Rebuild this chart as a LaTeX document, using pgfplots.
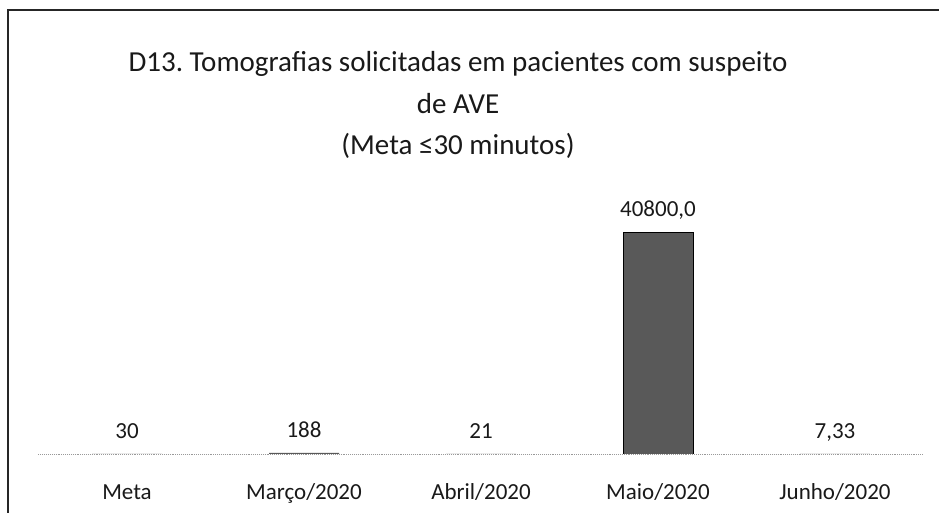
\documentclass[border=0pt]{standalone}
\usepackage{pgfplots}
\pgfplotsset{compat=1.18}
\usepackage{fontspec}
\setmainfont{Carlito}
\frenchspacing
\begin{document}
\begin{tikzpicture}[x=1pt,y=1pt]
\path[use as bounding box] (0,0) rectangle (939,513);
\draw[black!85, line width=1.6pt] (8,0) -- (8,503) -- (939,503);
\node[anchor=base, font=\fontsize{29}{34}\selectfont, black!90] at (458,441) {D13.\ Tomografias solicitadas em pacientes com suspeito};
\node[anchor=base, font=\fontsize{29}{34}\selectfont, black!90] at (458,399) {de AVE};
\node[anchor=base, font=\fontsize{29}{34}\selectfont, black!90] at (458,358) {(Meta ≤30 minutos)};
\begin{axis}[
  at={(38.5pt,59pt)}, anchor=south west,
  width=885pt, height=264pt, scale only axis,
  ymin=0, ymax=48500, xmin=-0.5, xmax=4.5,
  axis x line*=bottom, axis y line=none,
  x axis line style={draw=black!40, densely dotted, line width=0.9pt},
  xtick={0,1,2,3,4},
  xticklabels={Meta,Março/2020,Abril/2020,Maio/2020,Junho/2020},
  xtick style={draw=none},
  xticklabel style={anchor=base, yshift=-41pt, font=\fontsize{23}{27}\selectfont, text=black!90},
  ybar, bar width=70pt, bar shift=0pt,
  point meta=explicit symbolic,
  nodes near coords={\pgfplotspointmeta},
  every node near coord/.append style={anchor=base, yshift=15pt, font=\fontsize{23}{27}\selectfont, text=black!90},
]
\addplot[fill=black!65, draw=none] coordinates {
  (0,30) [30]
  (1,188) [188]
  (2,21) [21]
  (4,7.33) [7,33]
};
\addplot[fill=black!65, draw=black, line width=0.8pt] coordinates {
  (3,40800) [40800,0]
};
\end{axis}
\end{tikzpicture}
\end{document}
